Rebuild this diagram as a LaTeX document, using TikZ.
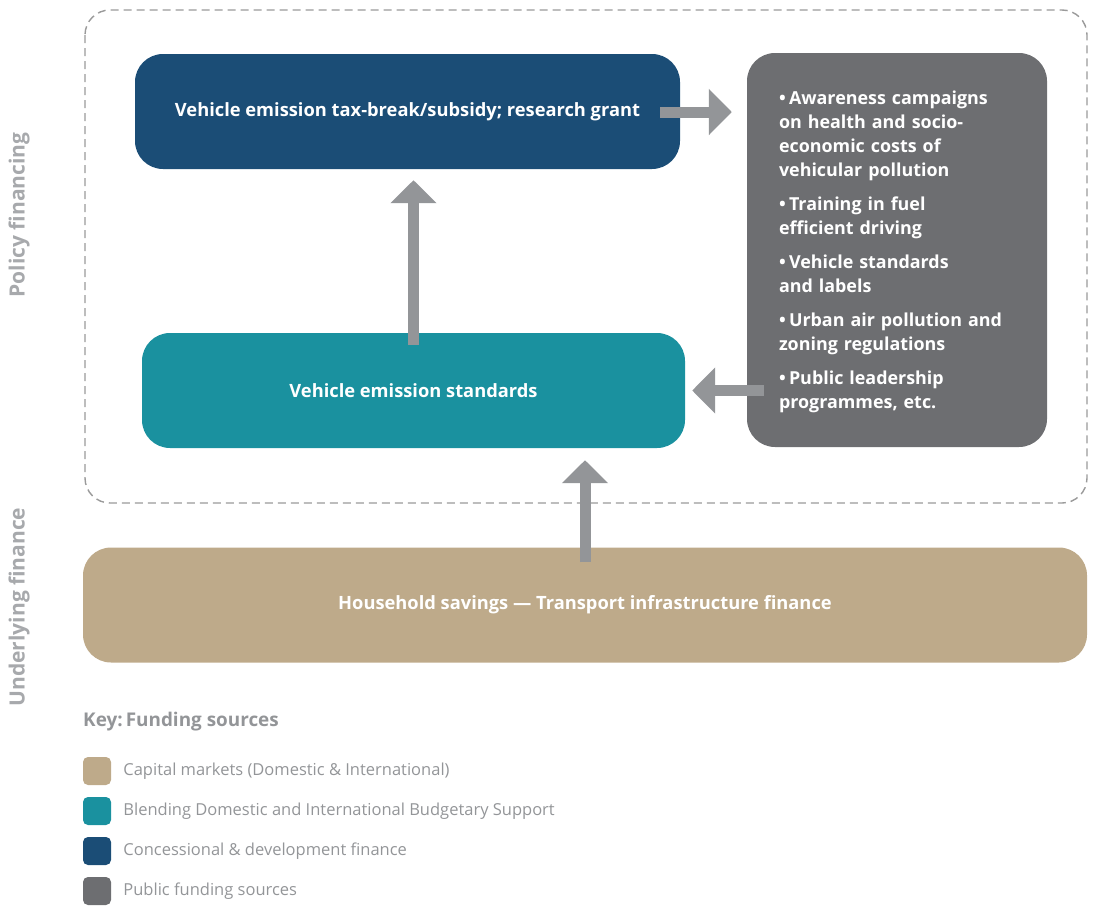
\documentclass[tikz,border=0pt]{standalone}
\usepackage{fontspec}
\setmainfont{Open Sans}
\usetikzlibrary{arrows.meta,calc,positioning}
\definecolor{taxblue}{HTML}{1B4D76}
\definecolor{stdteal}{HTML}{1A919F}
\definecolor{pubgray}{HTML}{6D6E71}
\definecolor{hhtan}{HTML}{BEAA8A}
\definecolor{arrowgray}{HTML}{939598}
\definecolor{framegray}{HTML}{9A9A9A}
\definecolor{sidegray}{HTML}{A7A9AC}
\newcommand{\bul}[1]{\par\vspace{10pt}\hangindent=10pt\hangafter=1\noindent\makebox[10pt][l]{\textbullet}#1}
\begin{document}
\begin{tikzpicture}[x=1pt,y=-1pt,
	box/.style={rounded corners=28pt,minimum height=115pt,inner sep=0pt,text=white,font=\bfseries\fontsize{18.3}{22}\selectfont},
	bigarrow/.style={line width=11pt,draw=arrowgray,-{Triangle[width=45pt,length=23pt]}},
	sidelabel/.style={rotate=90,text=sidegray,font=\bfseries\fontsize{21}{24}\selectfont},
	keybox/.style={rounded corners=5pt,minimum size=28pt,inner sep=0pt},
	keytext/.style={inner sep=0pt,text=arrowgray,font=\fontsize{16.5}{19}\selectfont}]
	\useasboundingbox (0,0) rectangle (1094,905);

	% policy frame
	\draw[framegray,line width=1.4pt,dash pattern=on 8pt off 5pt,rounded corners=25pt] (85,10) rectangle (1087,503);

	\node[box,fill=taxblue,minimum width=545pt] (tax) at (407.5,111.5) {Vehicle emission tax-break/subsidy; research grant};
	\node[box,fill=stdteal,minimum width=543pt] (std) at (413.5,390.5) {Vehicle emission standards};
	\node[box,fill=pubgray,minimum width=300pt,minimum height=394pt,text width=236pt,align=left,
		font=\bfseries\fontsize{17.9}{24}\selectfont] (aware) at (897,250) {%
		\vspace*{-17pt}
		\bul{Awareness campaigns\\on health and socio-\\economic costs of\\vehicular pollution}
		\bul{Training in fuel\\efficient driving}
		\bul{Vehicle standards\\and labels}
		\bul{Urban air pollution and\\zoning regulations}
		\bul{Public leadership\\programmes, etc.}\par};
	\node[box,fill=hhtan,minimum width=1004pt] (hh) at (585,605) {Household savings — Transport infrastructure finance};

	\draw[bigarrow] ($(tax.east)+(-20,0.5)$) -- ($(aware.west |- tax.east)+(-15,0.5)$);
	\draw[bigarrow] ($(std.north)+(0,12)$) -- ($(std.north |- tax.south)+(0,11)$);
	\draw[bigarrow] ($(aware.west |- std.east)+(17,0)$) -- ($(std.east)+(7,0)$);
	\draw[bigarrow] ($(hh.north)+(0,15)$) -- ($(hh.north |- std.south)+(0,12)$);

	\node[sidelabel] (policy) at (19,215) {Policy financing};
	\node[sidelabel] (under) at (19,607) {Underlying finance};

	% key
	\node[anchor=west,inner sep=0pt,text=arrowgray,font=\bfseries\fontsize{18.9}{22}\selectfont] (keyhead) at (83,722) {Key:\,Funding sources};
	\foreach \col/\lab [count=\i] in {hhtan/Capital markets (Domestic \& International),
		stdteal/Blending Domestic and International Budgetary Support,
		taxblue/Concessional \& development finance,
		pubgray/Public funding sources}{
		\node[keybox,fill=\col] (key\i) at (97,731+40*\i) {};
		\node[keytext,right=12pt of key\i] (lab\i) {\lab};
	}
\end{tikzpicture}
\end{document}
